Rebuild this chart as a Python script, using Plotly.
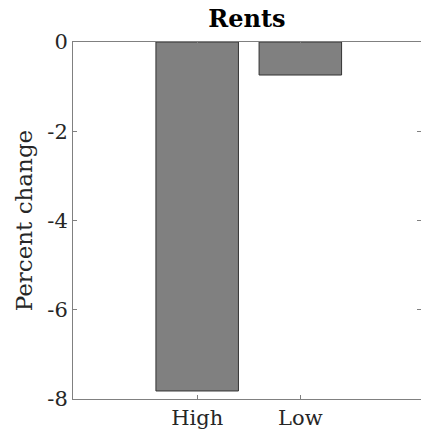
import plotly.graph_objects as go

categories = ["High", "Low"]
positions = [1, 2]
values = [-7.82, -0.74]
y_ticks = [0, -2, -4, -6, -8]

font_family = "DejaVu Serif"
axis_color = "#808080"
text_color = "#262626"

fig = go.Figure(
    go.Bar(
        x=positions,
        y=values,
        width=0.8,
        marker=dict(color="#808080", line=dict(color="#333333", width=1)),
    )
)

fig.update_layout(
    width=421,
    height=433,
    margin=dict(l=73, r=0, t=42, b=34),
    plot_bgcolor="white",
    paper_bgcolor="white",
    showlegend=False,
    font=dict(family=font_family, color=text_color, size=21),
    title=dict(
        text="<b>Rents</b>",
        x=(73 + 421) / 2 / 421,
        xanchor="center",
        y=1 - 19 / 433,
        yanchor="middle",
        font=dict(size=24, family=font_family, color="#000000"),
    ),
)

fig.update_xaxes(
    range=[-0.204, 3.17],
    tickvals=positions,
    ticktext=categories,
    ticks="inside",
    ticklen=4,
    tickcolor=axis_color,
    showline=True,
    linecolor=axis_color,
    linewidth=1,
    mirror="ticks",
    showgrid=False,
    zeroline=False,
    tickfont=dict(size=21),
)

fig.update_yaxes(
    range=[-8, 0],
    tickvals=y_ticks,
    ticktext=[str(v) for v in y_ticks],
    ticks="inside",
    ticklen=4,
    tickcolor=axis_color,
    showline=True,
    linecolor=axis_color,
    linewidth=1,
    mirror="ticks",
    showgrid=False,
    zeroline=False,
    tickfont=dict(size=21),
    title=dict(text="Percent change", font=dict(size=23), standoff=8),
)

fig.write_html("out.html")
